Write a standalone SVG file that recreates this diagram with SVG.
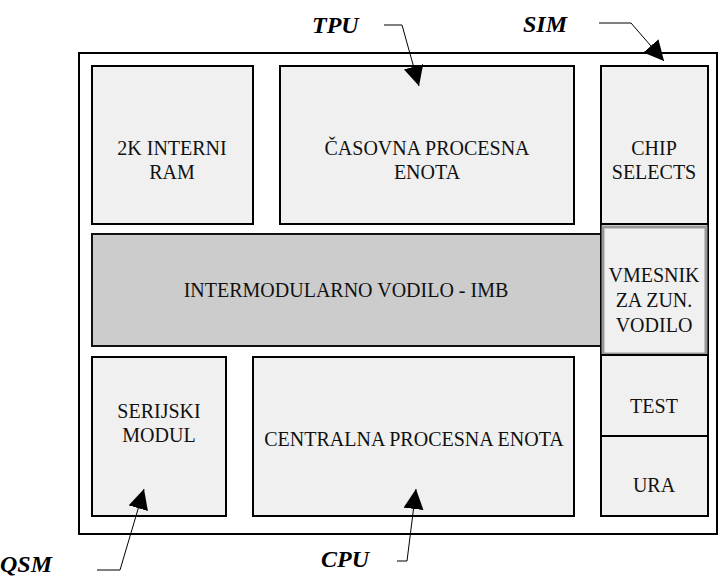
<svg xmlns="http://www.w3.org/2000/svg" width="720" height="577" viewBox="0 0 720 577">
<style>
.box{fill:#f0f0f0;stroke:#000;stroke-width:2}
.bus{fill:#cccccc;stroke:#111;stroke-width:2}
.gray{fill:#f0f0f0;stroke:#999;stroke-width:3}
.t{font-family:'Liberation Serif',serif;font-size:20px;fill:#111}
.lbl{font-family:'Liberation Serif',serif;font-size:24px;font-weight:bold;font-style:italic;fill:#000}
.ln{fill:none;stroke:#000;stroke-width:1}
</style>
<defs>
<marker id="ah" viewBox="0 0 10 10" refX="10" refY="5" markerWidth="20" markerHeight="20" markerUnits="userSpaceOnUse" orient="auto">
<path d="M0,0 L10,5 L0,10 z" fill="#000"/>
</marker>
</defs>
<rect x="79" y="53" width="638" height="481" fill="#fff" stroke="#000" stroke-width="2"/>
<g id="ram"><rect class="box" x="92" y="66" width="161" height="158"/><text class="t" x="172" y="155" text-anchor="middle">2K INTERNI</text><text class="t" x="172" y="179" text-anchor="middle">RAM</text></g>
<g id="tpu"><rect class="box" x="280" y="66" width="294" height="158"/><text class="t" x="427" y="155" text-anchor="middle">ČASOVNA PROCESNA</text><text class="t" x="427" y="179" text-anchor="middle">ENOTA</text></g>
<g id="chip"><rect class="box" x="601" y="66" width="107" height="158"/><text class="t" x="654" y="155" text-anchor="middle">CHIP</text><text class="t" x="654" y="179" text-anchor="middle">SELECTS</text></g>
<g id="imb"><rect class="bus" x="92" y="234" width="509" height="112"/><text class="t" x="346" y="297" text-anchor="middle">INTERMODULARNO VODILO - IMB</text></g>
<g id="vmesnik"><rect class="box" x="601" y="224" width="107" height="131"/><rect class="gray" x="603" y="227" width="103" height="127"/><text class="t" x="654" y="282" text-anchor="middle">VMESNIK</text><text class="t" x="654" y="307" text-anchor="middle">ZA ZUN.</text><text class="t" x="654" y="332" text-anchor="middle">VODILO</text></g>
<g id="test"><rect class="box" x="601" y="355" width="107" height="81"/><text class="t" x="654" y="413" text-anchor="middle">TEST</text></g>
<g id="ura"><rect class="box" x="601" y="436" width="107" height="80"/><text class="t" x="654" y="492" text-anchor="middle">URA</text></g>
<g id="qsm"><rect class="box" x="92" y="357" width="134" height="159"/><text class="t" x="159" y="418" text-anchor="middle">SERIJSKI</text><text class="t" x="159" y="442" text-anchor="middle">MODUL</text></g>
<g id="cpu"><rect class="box" x="253" y="357" width="321" height="159"/><text class="t" x="414" y="446" text-anchor="middle">CENTRALNA PROCESNA ENOTA</text></g>
<g id="labels">
<text class="lbl" x="312" y="33">TPU</text>
<text class="lbl" x="523" y="32">SIM</text>
<text class="lbl" x="0" y="572">QSM</text>
<text class="lbl" x="321" y="567">CPU</text>
</g>
<g id="connectors">
<polyline class="ln" points="384,25 402,25 419,86" marker-end="url(#ah)"/>
<polyline class="ln" points="599,23 631,23 664,61" marker-end="url(#ah)"/>
<polyline class="ln" points="97,570 120,570 144,489" marker-end="url(#ah)"/>
<polyline class="ln" points="397,561 407,561 416,489" marker-end="url(#ah)"/>
</g>
</svg>
